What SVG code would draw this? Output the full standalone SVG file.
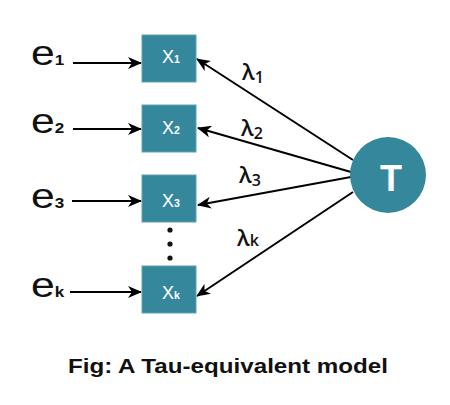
<svg xmlns="http://www.w3.org/2000/svg" width="450" height="405" viewBox="0 0 450 405">
<defs>
<marker id="ah" viewBox="0 0 14 12" markerWidth="14" markerHeight="12" refX="13" refY="6" orient="auto" markerUnits="userSpaceOnUse">
<path d="M0,0 L14,6 L0,12 L4,6 z" fill="#000"/>
</marker>
<style>
.box{fill:#35879b;stroke:#5ea3b3;stroke-width:1}
.bl{font-family:"Liberation Sans",Arial,sans-serif;font-size:18px;fill:#fff}
.bs{font-size:10.5px;font-weight:bold}
.el{font-family:"Liberation Sans",Arial,sans-serif;font-size:35px;fill:#111}
.es{font-size:14px;font-weight:bold}
.lam{font-family:"Open Sans","DejaVu Sans",sans-serif;font-size:22px;font-weight:600;fill:#111}
.ls{font-size:16px}
.ln{stroke:#000;stroke-width:2;fill:none;marker-end:url(#ah)}
</style>
</defs>
<rect width="450" height="405" fill="#fff"/>
<g id="connectors">
<line class="ln" x1="73" y1="63" x2="141" y2="63"/>
<line class="ln" x1="73" y1="129" x2="141" y2="129"/>
<line class="ln" x1="72" y1="201" x2="141" y2="201"/>
<line class="ln" x1="70" y1="292" x2="141" y2="292"/>
<line class="ln" x1="353" y1="160" x2="197" y2="59"/>
<line class="ln" x1="351" y1="172" x2="198" y2="128"/>
<line class="ln" x1="351" y1="177" x2="198" y2="205"/>
<line class="ln" x1="353" y1="192" x2="197" y2="296"/>
</g>
<g id="e1"><text class="el" transform="translate(31,65) scale(1.22,1)">e<tspan class="es">1</tspan></text></g>
<g id="e2"><text class="el" transform="translate(31,133) scale(1.22,1)">e<tspan class="es">2</tspan></text></g>
<g id="e3"><text class="el" transform="translate(31,208) scale(1.22,1)">e<tspan class="es">3</tspan></text></g>
<g id="ek"><text class="el" transform="translate(31,297) scale(1.22,1)">e<tspan class="es" font-weight="normal" font-size="16px">k</tspan></text></g>
<g id="x1"><rect class="box" x="142" y="35" width="54" height="47"/><text class="bl" x="162" y="63">X<tspan class="bs">1</tspan></text></g>
<g id="x2"><rect class="box" x="142" y="105" width="54" height="47"/><text class="bl" x="162" y="134">X<tspan class="bs">2</tspan></text></g>
<g id="x3"><rect class="box" x="142" y="175" width="54" height="47"/><text class="bl" x="162" y="207">X<tspan class="bs">3</tspan></text></g>
<g id="xk"><rect class="box" x="142" y="266" width="54" height="47"/><text class="bl" x="162" y="299">X<tspan class="bs" font-weight="normal" font-size="12px">k</tspan></text></g>
<g id="dots" fill="#111">
<circle cx="170" cy="230" r="2.6"/>
<circle cx="170" cy="244" r="2.6"/>
<circle cx="170" cy="258" r="2.6"/>
</g>
<g id="T"><circle cx="388" cy="175" r="38" fill="#35879b"/><text x="391" y="191" text-anchor="middle" font-family="Liberation Sans,Arial,sans-serif" font-weight="bold" font-size="36" fill="#fff">T</text></g>
<g id="labels">
<text class="lam" x="242" y="80">λ<tspan class="ls" dy="3">1</tspan></text>
<text class="lam" x="241" y="136">λ<tspan class="ls" dy="3">2</tspan></text>
<text class="lam" x="239" y="183">λ<tspan class="ls" dy="3">3</tspan></text>
<text class="lam" x="237" y="246">λ<tspan class="ls">k</tspan></text>
</g>
<text x="228" y="373" text-anchor="middle" font-family="Liberation Sans,Arial,sans-serif" font-weight="bold" font-size="21" textLength="320" lengthAdjust="spacingAndGlyphs" fill="#111">Fig: A Tau-equivalent model</text>
</svg>
